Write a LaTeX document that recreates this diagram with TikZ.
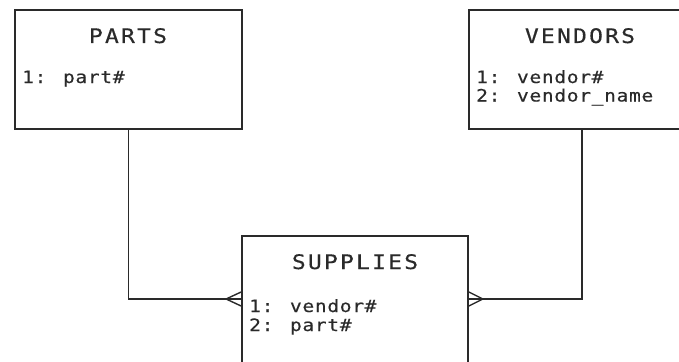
\documentclass[tikz,border=0pt]{standalone}
\usepackage{fontspec}
\newfontfamily\titlefont[FakeStretch=1.15,LetterSpace=11,FakeBold=0.4]{DejaVu Sans Mono}
\newfontfamily\attrfont[FakeStretch=1.15,LetterSpace=4,FakeBold=0.4]{DejaVu Sans Mono}
\definecolor{ink}{HTML}{2A2A2A}
\begin{document}
\begin{tikzpicture}[x=1pt,y=-1pt,
  entity/.style={draw=ink, line width=1.8pt, rectangle, inner sep=0pt},
  title/.style={anchor=base, inner sep=0pt, text=ink, font=\titlefont\fontsize{20}{20}\selectfont},
  attr/.style={anchor=base west, inner sep=0pt, text=ink, font=\attrfont\fontsize{17}{17}\selectfont},
  rel/.style={draw=ink, line width=1.8pt},
  foot/.style={draw=ink, line width=1.4pt}]
\useasboundingbox (0,0) rectangle (679,361);
\fill[white] (0,0) rectangle (679,361);
\clip (0,0) rectangle (679,361);

% entity boxes
\node[entity, minimum width=227pt, minimum height=119pt] (parts) at (128.5,69.5) {};
\node[entity, minimum width=226pt, minimum height=119pt] (vendors) at (582,69.5) {};
\node[entity, minimum width=226pt, minimum height=170pt] (supplies) at (355,321) {};

% titles
\node[title] (partsT) at (128,43) {PARTS};
\node[title] (vendorsT) at (580,43) {VENDORS};
\node[title] (suppliesT) at (355,269) {SUPPLIES};

% attributes
\node[attr] (p1) at (22,83) {1: part\#};
\node[attr] (v1) at (476,83) {1: vendor\#};
\node[attr] (v2) at (476,101.5) {2: vendor\_name};
\node[attr] (s1) at (249,312) {1: vendor\#};
\node[attr] (s2) at (249,331) {2: part\#};

% relationship ends on the SUPPLIES box
\coordinate (sL) at (supplies.west |- 0,299);
\coordinate (sR) at (supplies.east |- 0,299);

\draw[rel] (parts.south) |- (sL);
\draw[rel] (vendors.south) |- (sR);

% crow's feet (many side)
\draw[foot] ([xshift=-15pt]sL) -- ([yshift=-7pt]sL);
\draw[foot] ([xshift=-15pt]sL) -- ([yshift=7pt]sL);
\draw[foot] ([xshift=14pt]sR) -- ([yshift=-7pt]sR);
\draw[foot] ([xshift=14pt]sR) -- ([yshift=7pt]sR);
\end{tikzpicture}
\end{document}
